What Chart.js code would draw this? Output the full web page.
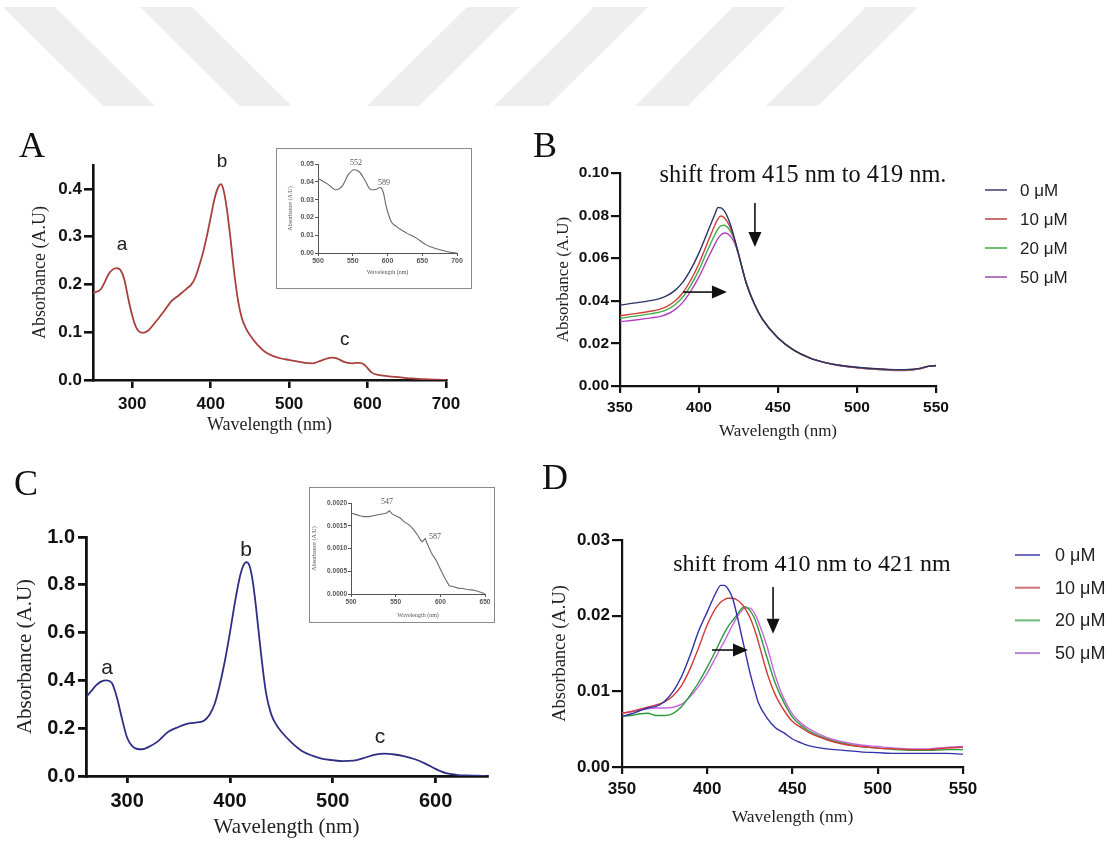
<!DOCTYPE html>
<html><head><meta charset="utf-8">
<script src="https://cdn.jsdelivr.net/npm/chart.js@4.4.1/dist/chart.umd.min.js"></script>
<style>
html,body{margin:0;padding:0;background:#fff;}
body{width:1114px;height:841px;position:relative;overflow:hidden;}
canvas{position:absolute;}
.letter{position:absolute;font-family:"Liberation Serif",serif;color:#111;line-height:1;font-size:36px;}
.inset{position:absolute;border:1.5px solid #8a8a8a;background:#fff;box-sizing:border-box;}
</style></head><body>
<svg width="1114" height="120" style="position:absolute;left:0px;top:0px">
  <g fill="#eeeeee">
    <polygon points="3,7 55,7 155,106 103,106"/>
    <polygon points="140,7 192,7 292,106 240,106"/>
    <polygon points="467,7 519,7 419,106 367,106"/>
    <polygon points="594,7 648,7 548,106 494,106"/>
    <polygon points="733,7 786,7 688,106 635,106"/>
    <polygon points="866,7 918,7 818,106 766,106"/>
  </g>
</svg>
<canvas id="cA" width="520" height="316" style="left:0px;top:120px"></canvas>
<canvas id="cB" width="574" height="322" style="left:540px;top:120px"></canvas>
<canvas id="cC" width="520" height="380" style="left:0px;top:460px"></canvas>
<canvas id="cD" width="574" height="368" style="left:540px;top:460px"></canvas>
<div class="inset" style="left:276px;top:148px;width:196px;height:141px"></div>
<canvas id="cIA" width="192" height="126" style="left:278px;top:150px"></canvas>
<div class="inset" style="left:309px;top:487px;width:186px;height:136px"></div>
<canvas id="cIC" width="182" height="130" style="left:311px;top:489px"></canvas>
<div class="letter" style="left:19px;top:127px">A</div>
<div class="letter" style="left:533px;top:127px">B</div>
<div class="letter" style="left:14px;top:465px">C</div>
<div class="letter" style="left:542px;top:459px">D</div>
<script>
// ---------------- DATA ----------------
const wlA = [250,260,265,270,275,280,285,290,295,300,305,310,315,320,330,340,350,355,360,365,370,375,380,385,390,395,400,405,410,413,416,420,425,430,435,440,445,450,460,470,480,490,500,510,520,530,540,550,555,560,565,570,575,580,585,590,595,600,605,610,620,630,640,650,660,670,680,690,700];
const absA = [0.182,0.190,0.205,0.222,0.231,0.234,0.230,0.210,0.170,0.135,0.110,0.100,0.099,0.103,0.122,0.143,0.165,0.172,0.178,0.185,0.192,0.199,0.213,0.237,0.265,0.300,0.340,0.380,0.405,0.410,0.400,0.365,0.300,0.225,0.165,0.128,0.108,0.094,0.073,0.058,0.050,0.045,0.042,0.039,0.036,0.035,0.040,0.046,0.047,0.046,0.042,0.038,0.036,0.035,0.036,0.036,0.033,0.025,0.016,0.012,0.009,0.007,0.006,0.004,0.003,0.002,0.001,0.0005,0.0];

const wlInsetA = [500,514,526,535,544,552,559,568,575,582,589,594,598,605,612,627,641,655,669,688,700];
const absInsetA = [0.0419,0.0387,0.0355,0.0377,0.0443,0.0468,0.0458,0.0406,0.0358,0.0355,0.0368,0.0340,0.0264,0.0179,0.0151,0.0113,0.0085,0.0047,0.0025,0.0006,0.0];

const wlB = [350,360,370,375,380,385,390,395,400,405,410,412,414,416,418,420,422,425,430,435,440,450,460,470,480,490,500,510,520,530,540,545,550];
const absB0  = [0.0380,0.0390,0.0402,0.0410,0.0425,0.0450,0.0490,0.0550,0.0625,0.0715,0.0805,0.0838,0.0836,0.0822,0.0795,0.0755,0.0705,0.0620,0.0480,0.0385,0.0315,0.0225,0.0168,0.0132,0.0110,0.0096,0.0088,0.0082,0.0078,0.0077,0.0083,0.0092,0.0095];
const absB10 = [0.0330,0.0340,0.0352,0.0360,0.0375,0.0400,0.0440,0.0500,0.0575,0.0665,0.0755,0.0785,0.0798,0.0790,0.0770,0.0740,0.0700,0.0620,0.0481,0.0386,0.0315,0.0225,0.0168,0.0132,0.0110,0.0096,0.0087,0.0081,0.0077,0.0076,0.0083,0.0093,0.0096];
const absB20 = [0.0318,0.0328,0.0340,0.0347,0.0360,0.0383,0.0420,0.0475,0.0545,0.0630,0.0710,0.0738,0.0753,0.0755,0.0745,0.0725,0.0695,0.0620,0.0482,0.0386,0.0316,0.0226,0.0168,0.0132,0.0110,0.0095,0.0087,0.0080,0.0076,0.0075,0.0082,0.0092,0.0096];
const absB50 = [0.0302,0.0310,0.0320,0.0326,0.0338,0.0360,0.0395,0.0448,0.0512,0.0590,0.0665,0.0692,0.0710,0.0718,0.0715,0.0702,0.0680,0.0618,0.0483,0.0387,0.0316,0.0226,0.0168,0.0131,0.0109,0.0094,0.0086,0.0079,0.0074,0.0073,0.0081,0.0092,0.0097];

const wlC = [260,265,270,275,280,285,290,295,300,305,310,315,320,330,340,350,360,370,375,380,385,390,395,400,405,410,413,416,419,422,425,430,435,440,445,450,460,470,480,490,500,510,520,530,540,550,560,570,580,590,600,605,610,620,630,640,650];
const absC = [0.330,0.355,0.380,0.396,0.400,0.390,0.330,0.240,0.160,0.125,0.113,0.112,0.120,0.145,0.185,0.205,0.220,0.225,0.232,0.255,0.300,0.380,0.480,0.600,0.730,0.840,0.880,0.895,0.880,0.820,0.720,0.520,0.350,0.260,0.215,0.185,0.140,0.105,0.085,0.072,0.066,0.062,0.064,0.075,0.088,0.094,0.090,0.082,0.070,0.052,0.030,0.020,0.012,0.005,0.002,0.001,0.0];

const wlInsetC = [500,505,510,515,520,525,530,535,540,543,546,550,555,560,565,570,575,578,580,583,585,590,595,600,605,610,615,620,625,630,635,640,645,650];
const absInsetC = [0.00178,0.00175,0.00172,0.00170,0.00170,0.00172,0.00174,0.00176,0.00178,0.00183,0.00176,0.00172,0.00167,0.00158,0.00152,0.00142,0.00128,0.00118,0.00115,0.00122,0.00112,0.00090,0.00075,0.00055,0.00035,0.00018,0.00016,0.00013,0.00012,0.00010,0.00009,0.00007,0.00004,0.0];

const wlD = [350,355,360,365,370,375,380,385,390,395,400,405,408,410,412,415,418,420,422,425,428,430,435,440,445,450,455,460,470,480,490,500,510,520,530,540,550];
const absD0  = [0.0067,0.0070,0.0074,0.0078,0.0080,0.0087,0.0100,0.0120,0.0148,0.0180,0.0205,0.0230,0.0240,0.0240,0.0236,0.0222,0.0195,0.0175,0.0155,0.0125,0.0100,0.0085,0.0065,0.0052,0.0045,0.0037,0.0032,0.0028,0.0024,0.0022,0.0020,0.0019,0.0018,0.0018,0.0018,0.0018,0.0017];
const absD10 = [0.0071,0.0073,0.0076,0.0079,0.0082,0.0086,0.0094,0.0108,0.0130,0.0158,0.0188,0.0210,0.0218,0.0221,0.0223,0.0223,0.0220,0.0216,0.0210,0.0198,0.0180,0.0165,0.0125,0.0095,0.0075,0.0060,0.0052,0.0045,0.0036,0.0030,0.0027,0.0025,0.0024,0.0023,0.0023,0.0025,0.0026];
const absD20 = [0.0067,0.0068,0.0070,0.0071,0.0068,0.0068,0.0071,0.0080,0.0095,0.0112,0.0132,0.0154,0.0168,0.0177,0.0185,0.0194,0.0203,0.0209,0.0212,0.0207,0.0195,0.0182,0.0145,0.0110,0.0085,0.0066,0.0055,0.0047,0.0037,0.0031,0.0027,0.0025,0.0023,0.0022,0.0022,0.0023,0.0023];
const absD50 = [0.0071,0.0073,0.0075,0.0077,0.0078,0.0078,0.0079,0.0083,0.0093,0.0107,0.0124,0.0145,0.0158,0.0166,0.0175,0.0188,0.0200,0.0206,0.0210,0.0210,0.0202,0.0192,0.0160,0.0120,0.0090,0.0070,0.0058,0.0050,0.0039,0.0033,0.0029,0.0027,0.0025,0.0024,0.0024,0.0026,0.0027];

const concLabels = ['0 μM','10 μM','20 μM','50 μM'];

// ticks
const xTicksA = [300,400,500,600,700];            const xTickLabelsA = ['300','400','500','600','700'];
const yTicksA = [0,0.1,0.2,0.3,0.4];              const yTickLabelsA = ['0.0','0.1','0.2','0.3','0.4'];
const xTicksIA = [500,550,600,650,700];           const xTickLabelsIA = ['500','550','600','650','700'];
const yTicksIA = [0,0.01,0.02,0.03,0.04,0.05];    const yTickLabelsIA = ['0.00','0.01','0.02','0.03','0.04','0.05'];
const xTicksB = [350,400,450,500,550];            const xTickLabelsB = ['350','400','450','500','550'];
const yTicksB = [0,0.02,0.04,0.06,0.08,0.10];     const yTickLabelsB = ['0.00','0.02','0.04','0.06','0.08','0.10'];
const xTicksC = [300,400,500,600];                const xTickLabelsC = ['300','400','500','600'];
const yTicksC = [0,0.2,0.4,0.6,0.8,1.0];          const yTickLabelsC = ['0.0','0.2','0.4','0.6','0.8','1.0'];
const xTicksIC = [500,550,600,650];               const xTickLabelsIC = ['500','550','600','650'];
const yTicksIC = [0,0.0005,0.001,0.0015,0.002];   const yTickLabelsIC = ['0.0000','0.0005','0.0010','0.0015','0.0020'];
const xTicksD = [350,400,450,500,550];            const xTickLabelsD = ['350','400','450','500','550'];
const yTicksD = [0,0.01,0.02,0.03];               const yTickLabelsD = ['0.00','0.01','0.02','0.03'];

// ---------------- HELPERS ----------------
const pts = (xs, ys) => xs.map((x, i) => ({x, y: ys[i]}));
const SANS = 'Liberation Sans', SERIF = 'Liberation Serif';

function axis(o) {
  return {
    type: 'linear', position: o.pos, min: o.min, max: o.max,
    afterBuildTicks: s => { s.ticks = o.ticks.map(v => ({value: v})); },
    afterFit: s => { if (o.pos === 'left') s.width = o.fit; else s.height = o.fit; },
    ticks: { callback: (v, i) => o.labels[i], font: {family: SANS, size: o.size, weight: 'bold'}, color: o.color || '#111', padding: o.pad, autoSkip: false, maxRotation: 0 },
    grid: { display: true, drawOnChartArea: false, drawTicks: true, tickLength: o.tl, color: o.color || '#111', lineWidth: o.lw },
    border: { display: true, color: o.color || '#111', width: o.lw },
    title: { display: true, text: o.title, font: {family: SERIF, size: o.tsize}, color: o.tcolor || '#222', padding: 0 }
  };
}

const notesPlugin = {
  id: 'notes',
  afterDraw(chart, args, opts) {
    const {ctx, chartArea: ca} = chart;
    const x = chart.scales.x, y = chart.scales.y;
    ctx.save();
    (opts.items || []).forEach(it => {
      ctx.font = it.font; ctx.fillStyle = it.color || '#222';
      ctx.textAlign = 'center'; ctx.textBaseline = 'middle';
      ctx.fillText(it.text, x.getPixelForValue(it.x), y.getPixelForValue(it.y));
    });
    (opts.arrows || []).forEach(a => {
      const x1 = x.getPixelForValue(a.x1), y1 = y.getPixelForValue(a.y1);
      const x2 = x.getPixelForValue(a.x2), y2 = y.getPixelForValue(a.y2);
      const ang = Math.atan2(y2 - y1, x2 - x1), hl = 15, hw = 6.5;
      const bx = x2 - hl * Math.cos(ang), by = y2 - hl * Math.sin(ang);
      ctx.strokeStyle = '#111'; ctx.lineWidth = 1.6;
      ctx.beginPath(); ctx.moveTo(x1, y1); ctx.lineTo(bx, by); ctx.stroke();
      ctx.beginPath(); ctx.moveTo(x2, y2);
      ctx.lineTo(bx + hw * Math.sin(ang), by - hw * Math.cos(ang));
      ctx.lineTo(bx - hw * Math.sin(ang), by + hw * Math.cos(ang));
      ctx.closePath(); ctx.fillStyle = '#111'; ctx.fill();
    });
    const lg = opts.legend;
    if (lg) {
      chart.data.datasets.forEach((ds, i) => {
        const yy = ca.top + lg.y0 + i * lg.dy;
        ctx.strokeStyle = lg.colors ? lg.colors[i] : ds.borderColor; ctx.lineWidth = 2;
        ctx.beginPath(); ctx.moveTo(ca.right + lg.x0, yy); ctx.lineTo(ca.right + lg.x0 + lg.len, yy); ctx.stroke();
        ctx.font = lg.font; ctx.fillStyle = '#222'; ctx.textAlign = 'left'; ctx.textBaseline = 'middle';
        ctx.fillText(ds.label, ca.right + lg.tx, yy + 1);
      });
    }
    ctx.restore();
  }
};

function make(id, datasets, xs, ys, padding, notes) {
  return new Chart(document.getElementById(id), {
    type: 'line',
    data: { datasets },
    options: {
      responsive: false, animation: false, devicePixelRatio: 1,
      layout: { padding },
      elements: { point: { radius: 0 } },
      plugins: { legend: { display: false }, tooltip: { enabled: false }, notes },
      scales: { x: xs, y: ys }
    },
    plugins: [notesPlugin]
  });
}
const line = (label, data, color, w, smooth = true) => ({ label, data, borderColor: color, borderWidth: w, fill: false, cubicInterpolationMode: smooth ? 'monotone' : 'default', tension: smooth ? 0.4 : 0 });

// ---------------- PANEL A ----------------
make('cA', [line('A', pts(wlA, absA), '#a8413c', 1.8)],
  axis({pos: 'bottom', min: 250, max: 700, ticks: xTicksA, labels: xTickLabelsA, size: 17, pad: 6, tl: 8, lw: 2.6, fit: 56, title: 'Wavelength (nm)', tsize: 18}),
  axis({pos: 'left', min: 0, max: 0.45, ticks: yTicksA, labels: yTickLabelsA, size: 17, pad: 2, tl: 9, lw: 2.6, fit: 64, title: 'Absorbance (A.U)', tsize: 18}),
  {left: 29, top: 45, right: 74, bottom: 0},
  {items: [
    {text: 'a', x: 287, y: 0.284, font: '19px ' + SANS},
    {text: 'b', x: 414.5, y: 0.456, font: '19px ' + SANS},
    {text: 'c', x: 571, y: 0.084, font: '19px ' + SANS}
  ]});

// inset A
make('cIA', [line('inset A', pts(wlInsetA, absInsetA), '#6a6a6a', 1.1)],
  axis({pos: 'bottom', min: 500, max: 700, ticks: xTicksIA, labels: xTickLabelsIA, size: 7, pad: 1, tl: 3, lw: 1, fit: 23, title: 'Wavelength (nm)', tsize: 6, color: '#555', tcolor: '#555'}),
  axis({pos: 'left', min: 0, max: 0.05, ticks: yTicksIA, labels: yTickLabelsIA, size: 7, pad: 1, tl: 3, lw: 1, fit: 31, title: 'Absorbance (A.U)', tsize: 6, color: '#555', tcolor: '#555'}),
  {left: 9, top: 14, right: 13, bottom: 0},
  {items: [
    {text: '552', x: 554.7, y: 0.0506, font: '8px ' + SERIF, color: '#555'},
    {text: '589', x: 595, y: 0.0393, font: '8px ' + SERIF, color: '#555'}
  ]});

// ---------------- PANEL B ----------------
const colB = ['#2b3466', '#d0403a', '#3fae49', '#b43fbf'];
make('cB', [
    line(concLabels[0], pts(wlB, absB0), colB[0], 1.4),
    line(concLabels[1], pts(wlB, absB10), colB[1], 1.4),
    line(concLabels[2], pts(wlB, absB20), colB[2], 1.4),
    line(concLabels[3], pts(wlB, absB50), colB[3], 1.4)],
  axis({pos: 'bottom', min: 350, max: 550, ticks: xTicksB, labels: xTickLabelsB, size: 15.5, pad: 5, tl: 7, lw: 2.2, fit: 56, title: 'Wavelength (nm)', tsize: 17}),
  axis({pos: 'left', min: 0, max: 0.10, ticks: yTicksB, labels: yTickLabelsB, size: 15.5, pad: 2, tl: 9, lw: 2.2, fit: 67, title: 'Absorbance (A.U)', tsize: 17}),
  {left: 13, top: 53, right: 178, bottom: 0},
  {items: [{text: 'shift from 415 nm to 419 nm.', x: 465.8, y: 0.0986, font: '24.3px ' + SERIF, color: '#111'}],
   arrows: [{x1: 435.4, y1: 0.0859, x2: 435.4, y2: 0.0653}, {x1: 389.9, y1: 0.0441, x2: 417.7, y2: 0.0441}],
   legend: {x0: 49, len: 22, tx: 84, y0: 17, dy: 29, font: '17px ' + SANS, colors: ['#6b6f8c', '#c9727a', '#6cbf72', '#b576c2']}});

// ---------------- PANEL C ----------------
make('cC', [line('C', pts(wlC, absC), '#2f2f85', 1.8)],
  axis({pos: 'bottom', min: 260, max: 650, ticks: xTicksC, labels: xTickLabelsC, size: 20, pad: 6, tl: 7, lw: 2.8, fit: 64, title: 'Wavelength (nm)', tsize: 21}),
  axis({pos: 'left', min: 0, max: 1.0, ticks: yTicksC, labels: yTickLabelsC, size: 20, pad: 3, tl: 8, lw: 2.8, fit: 73, title: 'Absorbance (A.U)', tsize: 21}),
  {left: 13, top: 77, right: 33, bottom: 0},
  {items: [
    {text: 'a', x: 280.4, y: 0.452, font: '21px ' + SANS},
    {text: 'b', x: 415.6, y: 0.946, font: '21px ' + SANS},
    {text: 'c', x: 546, y: 0.163, font: '21px ' + SANS}
  ]});

// inset C
make('cIC', [line('inset C', pts(wlInsetC, absInsetC), '#6a6a6a', 1.1, false)],
  axis({pos: 'bottom', min: 500, max: 650, ticks: xTicksIC, labels: xTickLabelsIC, size: 6.5, pad: 1, tl: 3, lw: 1, fit: 25, title: 'Wavelength (nm)', tsize: 6, color: '#555', tcolor: '#555'}),
  axis({pos: 'left', min: 0, max: 0.002, ticks: yTicksIC, labels: yTickLabelsIC, size: 6.5, pad: 1, tl: 3, lw: 1, fit: 40, title: 'Absorbance (A.U)', tsize: 6, color: '#555', tcolor: '#555'}),
  {left: 0, top: 14, right: 8, bottom: 0},
  {items: [
    {text: '547', x: 540.3, y: 0.00202, font: '8px ' + SERIF, color: '#555'},
    {text: '587', x: 594, y: 0.00126, font: '8px ' + SERIF, color: '#555'}
  ]});

// ---------------- PANEL D ----------------
const colD = ['#3030a8', '#d33a3a', '#2e9a3a', '#c466e0'];
make('cD', [
    line(concLabels[0], pts(wlD, absD0), colD[0], 1.4),
    line(concLabels[1], pts(wlD, absD10), colD[1], 1.4),
    line(concLabels[2], pts(wlD, absD20), colD[2], 1.4),
    line(concLabels[3], pts(wlD, absD50), colD[3], 1.4)],
  axis({pos: 'bottom', min: 350, max: 550, ticks: xTicksD, labels: xTickLabelsD, size: 17, pad: 5, tl: 7, lw: 2.2, fit: 61, title: 'Wavelength (nm)', tsize: 17.5}),
  axis({pos: 'left', min: 0, max: 0.03, ticks: yTicksD, labels: yTickLabelsD, size: 17, pad: 2, tl: 10, lw: 2.2, fit: 73, title: 'Absorbance (A.U)', tsize: 18.5}),
  {left: 9, top: 80, right: 151, bottom: 0},
  {items: [{text: 'shift from 410 nm to 421 nm', x: 461.4, y: 0.0267, font: '24px ' + SERIF, color: '#111'}],
   arrows: [{x1: 438.6, y1: 0.0238, x2: 438.6, y2: 0.0176}, {x1: 402.8, y1: 0.01546, x2: 423.9, y2: 0.01546}],
   legend: {x0: 52, len: 25, tx: 92, y0: 15, dy: 32.7, font: '18px ' + SANS, colors: ['#6d6dc0', '#d4737a', '#6fbb76', '#b287d6']}});
</script>
</body></html>
